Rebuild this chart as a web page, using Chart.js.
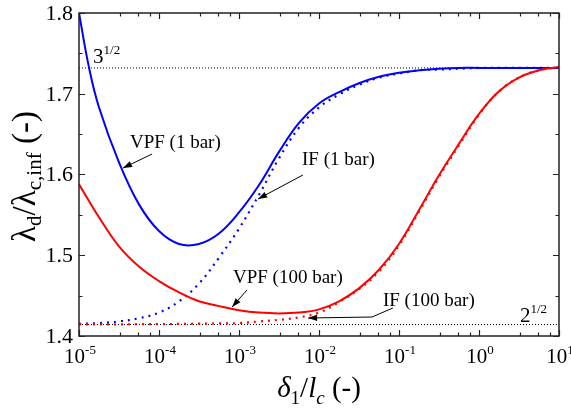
<!DOCTYPE html>
<html>
<head>
<meta charset="utf-8">
<script src="https://cdn.jsdelivr.net/npm/chart.js@4.4.1/dist/chart.umd.min.js"></script>
<style>
  html, body { margin: 0; padding: 0; background: #fff; }
  #wrap { width: 571px; height: 409px; position: relative; }
</style>
</head>
<body>
<div id="wrap"><canvas id="chart"></canvas></div>
<script>
// delta_1 / l_c sample positions (quarter decades from 1e-5 to 1e1)
const xValues = [1e-5, 1.78e-5, 3.16e-5, 5.62e-5, 1e-4, 1.78e-4, 3.16e-4, 5.62e-4,
                 1e-3, 1.78e-3, 3.16e-3, 5.62e-3, 1e-2, 1.78e-2, 3.16e-2, 5.62e-2,
                 1e-1, 1.78e-1, 3.16e-1, 5.62e-1, 1, 1.78, 3.16, 5.62, 10];
// the steep start of VPF (1 bar) needs one more sample
const vpf1barX = [1e-5, 1.33e-5, 1.78e-5, 3.16e-5, 5.62e-5, 1e-4, 1.78e-4, 3.16e-4, 5.62e-4,
                  1e-3, 1.78e-3, 3.16e-3, 5.62e-3, 1e-2, 1.78e-2, 3.16e-2, 5.62e-2,
                  1e-1, 1.78e-1, 3.16e-1, 5.62e-1, 1, 1.78, 3.16, 5.62, 10];

// lambda_d / lambda_c,inf
const vpf1bar   = [1.800, 1.733, 1.683, 1.615, 1.563, 1.530, 1.514, 1.514, 1.527, 1.553, 1.587, 1.628, 1.664, 1.688,
                   1.702, 1.713, 1.721, 1.726, 1.729, 1.731, 1.732, 1.732, 1.732, 1.732, 1.732, 1.732];
const if1bar    = [1.415, 1.416, 1.418, 1.422, 1.429, 1.443, 1.465, 1.497, 1.533, 1.575, 1.620, 1.658, 1.683,
                   1.699, 1.711, 1.720, 1.725, 1.729, 1.730, 1.731, 1.732, 1.732, 1.732, 1.732, 1.732];
const vpf100bar = [1.588, 1.547, 1.511, 1.486, 1.468, 1.454, 1.443, 1.437, 1.432, 1.429, 1.428, 1.429, 1.433,
                   1.443, 1.459, 1.482, 1.514, 1.556, 1.599, 1.638, 1.675, 1.703, 1.720, 1.729, 1.733];
const if100bar  = [1.4145, 1.4145, 1.4145, 1.4146, 1.4147, 1.415, 1.4153, 1.4156, 1.416, 1.418, 1.420, 1.423, 1.429,
                   1.442, 1.458, 1.480, 1.512, 1.554, 1.597, 1.636, 1.674, 1.703, 1.720, 1.729, 1.733];

// reference levels
const refX = [1e-5, 10];
const sqrt3 = [1.732, 1.732];
const sqrt2 = [1.4142, 1.4142];

// axis ticks
const xTicks = [1e-5, 1e-4, 1e-3, 1e-2, 1e-1, 1, 10];
const xTickExp = ['-5', '-4', '-3', '-2', '-1', '0', '1'];
const yTicks = [1.4, 1.5, 1.6, 1.7, 1.8];
const yTickLabels = ['1.4', '1.5', '1.6', '1.7', '1.8'];

const SERIF = "'Liberation Serif', 'Times New Roman', Times, serif";

function pts(ys, xs) {
  return ys.map((y, i) => ({ x: (xs || xValues)[i], y: y }));
}

function setFont(ctx, p) {
  ctx.font = (p.i ? 'italic ' : 'normal ') + p.s + 'px ' + SERIF;
}

// draw a run of text pieces (with sub/superscripts) starting at x, baseline y
function rich(ctx, parts, x, y, align) {
  let w = 0;
  parts.forEach(p => { setFont(ctx, p); w += ctx.measureText(p.t).width; });
  let cx = align === 'center' ? x - w / 2 : (align === 'right' ? x - w : x);
  ctx.textAlign = 'left';
  parts.forEach(p => {
    setFont(ctx, p);
    ctx.fillText(p.t, cx, y + (p.dy || 0));
    cx += ctx.measureText(p.t).width;
  });
}

function arrow(ctx, pts) {
  ctx.beginPath();
  ctx.moveTo(pts[0][0], pts[0][1]);
  for (let i = 1; i < pts.length; i++) ctx.lineTo(pts[i][0], pts[i][1]);
  ctx.stroke();
  const a = pts[pts.length - 2], b = pts[pts.length - 1];
  const ang = Math.atan2(b[1] - a[1], b[0] - a[0]);
  const L = 9, W = 3.2;
  ctx.beginPath();
  ctx.moveTo(b[0], b[1]);
  ctx.lineTo(b[0] - L * Math.cos(ang) + W * Math.sin(ang), b[1] - L * Math.sin(ang) - W * Math.cos(ang));
  ctx.lineTo(b[0] - L * Math.cos(ang) - W * Math.sin(ang), b[1] - L * Math.sin(ang) + W * Math.cos(ang));
  ctx.closePath();
  ctx.fill();
}

const axesPlugin = {
  id: 'axesPlugin',
  afterDraw(chart) {
    const ctx = chart.ctx;
    const xs = chart.scales.x, ys = chart.scales.y;
    const a = chart.chartArea;
    const X = v => xs.getPixelForValue(v);
    const Y = v => ys.getPixelForValue(v);
    ctx.save();
    ctx.fillStyle = '#000';
    ctx.strokeStyle = '#222';

    // frame
    ctx.lineWidth = 1.5;
    ctx.strokeRect(a.left, a.top, a.right - a.left, a.bottom - a.top);

    // x ticks (major at decades, minor at 3.25, 5.5, 7.75 within each decade)
    ctx.lineWidth = 1.2;
    ctx.beginPath();
    xTicks.forEach((v, i) => {
      const px = Math.round(X(v)) + 0.5;
      ctx.moveTo(px, a.bottom); ctx.lineTo(px, a.bottom - 6);
      ctx.moveTo(px, a.top); ctx.lineTo(px, a.top + 6);
      if (i < xTicks.length - 1) {
        [3.25, 5.5, 7.75].forEach(m => {
          const mx = Math.round(X(v * m)) + 0.5;
          ctx.moveTo(mx, a.bottom); ctx.lineTo(mx, a.bottom - 3.5);
          ctx.moveTo(mx, a.top); ctx.lineTo(mx, a.top + 3.5);
        });
      }
    });
    // y ticks (major 0.1, minor 0.05)
    yTicks.forEach((v, i) => {
      const py = Math.round(Y(v)) + 0.5;
      ctx.moveTo(a.left, py); ctx.lineTo(a.left + 6, py);
      ctx.moveTo(a.right, py); ctx.lineTo(a.right - 6, py);
      if (i < yTicks.length - 1) {
        const my = Math.round(Y(v + 0.05)) + 0.5;
        ctx.moveTo(a.left, my); ctx.lineTo(a.left + 3.5, my);
        ctx.moveTo(a.right, my); ctx.lineTo(a.right - 3.5, my);
      }
    });
    ctx.stroke();

    // tick labels
    ctx.textBaseline = 'alphabetic';
    xTicks.forEach((v, i) => {
      rich(ctx, [{ t: '10', s: 21 }, { t: xTickExp[i], s: 13, dy: -9 }], X(v) + 1, a.bottom + 27, 'center');
    });
    ctx.textBaseline = 'middle';
    yTicks.forEach((v, i) => {
      rich(ctx, [{ t: yTickLabels[i], s: 22 }], a.left - 6, Y(v) + 1, 'right');
    });
    ctx.textBaseline = 'alphabetic';

    // axis titles
    rich(ctx, [{ t: 'δ', s: 29, i: true }, { t: '1', s: 19, dy: 7 }, { t: '/', s: 29 },
               { t: 'l', s: 29, i: true }, { t: 'c', s: 19, i: true, dy: 7 }, { t: ' (-)', s: 29 }],
         (a.left + a.right) / 2, a.bottom + 61, 'center');
    ctx.save();
    ctx.translate(35, (a.top + a.bottom) / 2 + 2);
    ctx.rotate(-Math.PI / 2);
    rich(ctx, [{ t: 'λ', s: 33 }, { t: 'd', s: 21, dy: 6 }, { t: '/', s: 33 }, { t: 'λ', s: 33 },
               { t: 'c,inf', s: 21, dy: 6 }, { t: ' (-)', s: 33 }], 0, 0, 'center');
    ctx.restore();

    // reference level labels
    rich(ctx, [{ t: '3', s: 21 }, { t: '1/2', s: 13, dy: -9 }], X(1.5e-5), Y(1.738), 'left');
    rich(ctx, [{ t: '2', s: 21 }, { t: '1/2', s: 13, dy: -9 }], X(3.25), Y(1.4173), 'left');

    // curve labels with arrows
    ctx.strokeStyle = '#000';
    ctx.lineWidth = 1;
    rich(ctx, [{ t: 'VPF (1 bar)', s: 19 }], X(4.34e-5), Y(1.6328), 'left');
    arrow(ctx, [[X(8.2e-5), Y(1.6254)], [X(3.55e-5), Y(1.608)]]);
    rich(ctx, [{ t: 'IF (1 bar)', s: 19 }], X(6.13e-3), Y(1.6118), 'left');
    arrow(ctx, [[X(6.3e-3), Y(1.5994)], [X(1.73e-3), Y(1.5697)]]);
    rich(ctx, [{ t: 'VPF (100 bar)', s: 19 }], X(8.41e-4), Y(1.4656), 'left');
    arrow(ctx, [[X(1.26e-3), Y(1.457)], [X(8.2e-4), Y(1.4359)]]);
    rich(ctx, [{ t: 'IF (100 bar)', s: 19 }], X(6.3e-2), Y(1.4372), 'left');
    arrow(ctx, [[X(8.4e-2), Y(1.4347)], [X(4.6e-2), Y(1.4235)], [X(7.3e-3), Y(1.4223)]]);

    ctx.restore();
  }
};

function build() {
  new Chart(document.getElementById('chart'), {
    type: 'line',
    data: {
      datasets: [
        { data: pts(vpf100bar), borderColor: '#ff0000', borderWidth: 2, order: 1 },
        { data: pts(if100bar), borderColor: '#ff0000', borderWidth: 2.2, borderDash: [2, 5], order: 2 },
        { data: pts(vpf1bar, vpf1barX), borderColor: '#0000ff', borderWidth: 2, order: 3 },
        { data: pts(if1bar), borderColor: '#0000ff', borderWidth: 2.2, borderDash: [2, 5], order: 4 },
        { data: pts(sqrt3, refX), borderColor: '#000', borderWidth: 1, borderDash: [1, 2], tension: 0, order: 5 },
        { data: pts(sqrt2, refX), borderColor: '#000', borderWidth: 1, borderDash: [1, 2], tension: 0, order: 6 }
      ]
    },
    options: {
      responsive: true,
      maintainAspectRatio: false,
      animation: false,
      devicePixelRatio: 1,
      layout: { padding: { left: 79, right: 12, top: 13, bottom: 73 } },
      elements: {
        point: { radius: 0 },
        line: { tension: 0.4, fill: false }
      },
      plugins: { legend: { display: false }, tooltip: { enabled: false } },
      scales: {
        x: { type: 'logarithmic', min: 1e-5, max: 10, display: false },
        y: { type: 'linear', min: 1.4, max: 1.8, display: false }
      }
    },
    plugins: [axesPlugin]
  });
}

Promise.all([
  document.fonts.load("21px 'Liberation Serif'"),
  document.fonts.load("italic 21px 'Liberation Serif'")
]).then(build, build);
</script>
</body>
</html>
